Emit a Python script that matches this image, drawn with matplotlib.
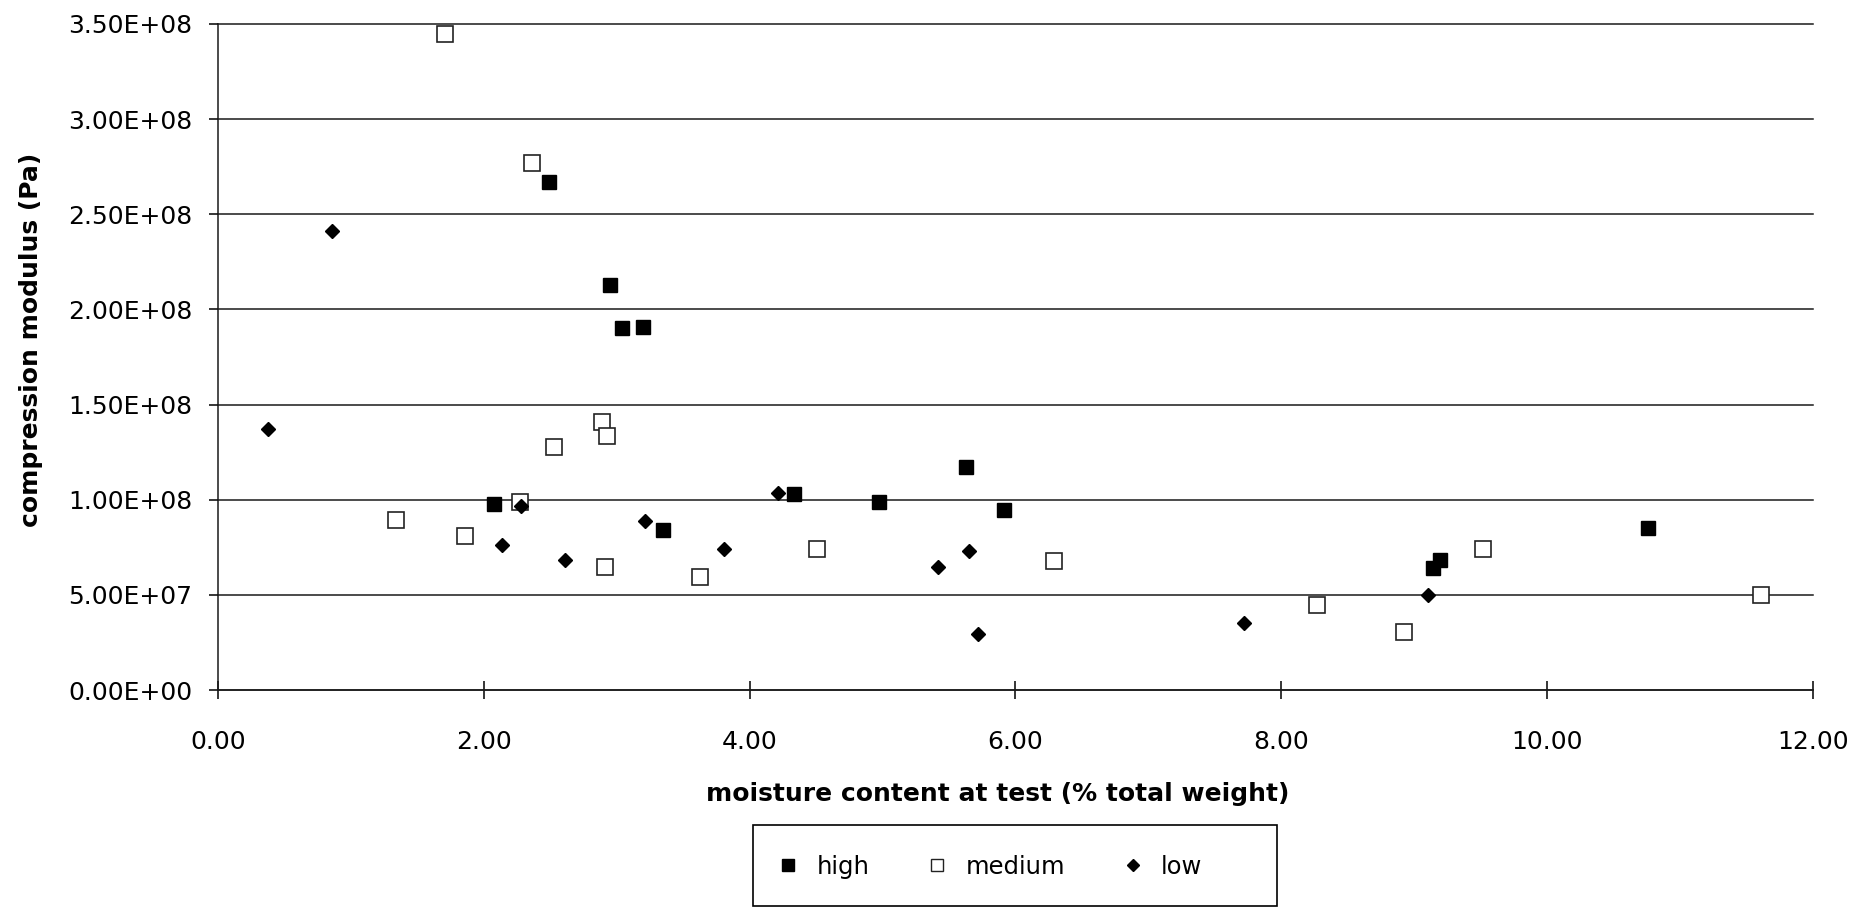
import matplotlib
matplotlib.use("Agg")
import matplotlib.pyplot as plt
from matplotlib.lines import Line2D
from matplotlib.patches import Rectangle
from matplotlib.ticker import FuncFormatter

# moisture content at test (% total weight) and compression modulus (Pa)
high_x = [2.49, 2.95, 3.04, 3.20, 2.08, 3.35, 4.33, 4.97, 5.63, 5.91, 9.14, 9.19, 10.76]
high_y = [2.67e8, 2.13e8, 1.90e8, 1.91e8, 9.75e7, 8.4e7, 1.03e8, 9.86e7, 1.17e8, 9.46e7, 6.4e7, 6.84e7, 8.5e7]

medium_x = [1.71, 2.36, 2.89, 2.93, 2.53, 1.34, 1.86, 2.27, 2.91, 3.63, 4.51, 6.29, 8.27, 8.92, 9.52, 11.61]
medium_y = [3.45e8, 2.77e8, 1.407e8, 1.334e8, 1.276e8, 8.93e7, 8.1e7, 9.9e7, 6.45e7, 5.94e7, 7.4e7, 6.78e7,
            4.47e7, 3.07e7, 7.4e7, 5.0e7]

low_x = [0.38, 0.86, 2.14, 2.28, 2.61, 3.21, 3.81, 4.21, 5.42, 5.65, 5.72, 7.72, 9.10]
low_y = [1.372e8, 2.414e8, 7.64e7, 9.65e7, 6.85e7, 8.9e7, 7.39e7, 1.033e8, 6.44e7, 7.28e7, 2.95e7, 3.53e7, 5.0e7]

labels = ['high', 'medium', 'low']
x_ticks = [0, 2, 4, 6, 8, 10, 12]
y_ticks = [0, 5e7, 1e8, 1.5e8, 2e8, 2.5e8, 3e8, 3.5e8]

plt.rcParams['font.family'] = 'DejaVu Sans'
FS = 18

fig = plt.figure(figsize=(18.58, 9.09), dpi=100)
ax = fig.add_axes([0.1173, 0.2409, 0.8585, 0.7327])

ax.plot(high_x, high_y, ls='none', marker='s', ms=10.5, mfc='black', mec='black', zorder=3)
ax.plot(medium_x, medium_y, ls='none', marker='s', ms=11.5, mfc='white', mec='#222222', mew=1.2, zorder=3)
ax.plot(low_x, low_y, ls='none', marker='D', ms=7.3, mfc='black', mec='black', zorder=3)

ax.set_xlim(0, 12)
ax.set_ylim(0, 3.5e8)
ax.set_xticks(x_ticks)
ax.set_yticks(y_ticks)
ax.xaxis.set_major_formatter(FuncFormatter(lambda v, p: f"{v:.2f}"))
ax.yaxis.set_major_formatter(FuncFormatter(lambda v, p: f"{v:.2E}"))

ax.grid(axis='y', color='#1a1a1a', lw=1.1)
for gl in ax.get_ygridlines():
    gl.set_clip_on(False)
ax.set_axisbelow(True)
for s in ['top', 'right']:
    ax.spines[s].set_visible(False)
for s in ['left', 'bottom']:
    ax.spines[s].set_color('#1a1a1a')
    ax.spines[s].set_linewidth(1.1)

ax.tick_params(axis='y', direction='out', length=6.5, width=1.1, pad=12, labelsize=FS)
ax.tick_params(axis='x', direction='inout', length=13, width=1.1, pad=22, labelsize=FS)

ax.set_xlabel('moisture content at test (% total weight)', fontsize=18, fontweight='bold')
ax.xaxis.set_label_coords(0.489, -0.138)
ax.set_ylabel('compression modulus (Pa)', fontsize=18, fontweight='bold')
ax.yaxis.set_label_coords(-0.1097, 0.525)

# legend: entries without frame, plus a plain box around them
handles = [
    Line2D([], [], ls='none', marker='s', ms=9, mfc='black', mec='black'),
    Line2D([], [], ls='none', marker='s', ms=9, mfc='white', mec='#222222', mew=1.0),
    Line2D([], [], ls='none', marker='D', ms=6.2, mfc='black', mec='black'),
]
fig.legend(handles, labels, loc='center left', bbox_to_anchor=(776 / 1858, 1 - 867 / 909),
           ncol=3, fontsize=17.5, frameon=False, borderpad=0, borderaxespad=0,
           handlelength=1.0, handletextpad=0.66, columnspacing=2.3)
x0, x1 = 753 / 1858, 1277 / 1858
ytop, ybot = 1 - 825 / 909, 1 - 906 / 909
fig.patches.append(Rectangle((x0, ybot), x1 - x0, ytop - ybot, transform=fig.transFigure,
                             fill=False, ec='black', lw=1.2))

plt.savefig('out.png', dpi=100)
